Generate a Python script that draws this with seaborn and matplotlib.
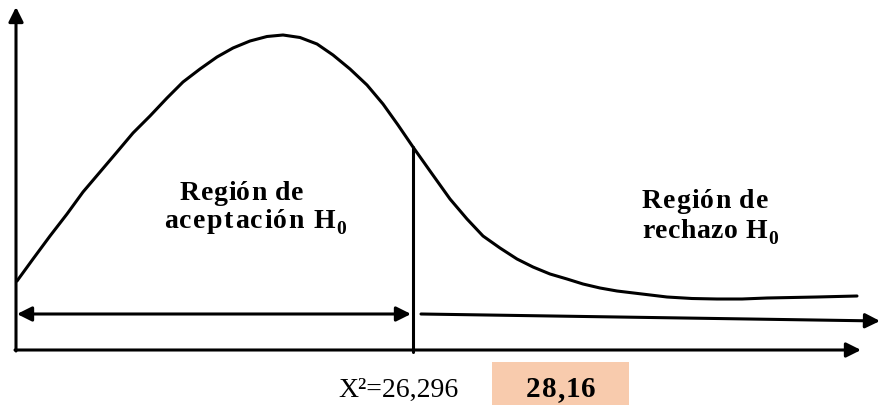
import matplotlib
matplotlib.use("Agg")
import matplotlib.pyplot as plt
import seaborn as sns
import pandas as pd
from matplotlib import font_manager
from matplotlib.ft2font import FT2Font
from matplotlib.patches import Rectangle

# Schematic chi-square density drawn on a pixel-like canvas (x right, y down)
curve_x = [17, 33, 50, 67, 83, 100, 117, 133, 150, 167, 183, 200, 217, 233,
           250, 267, 283, 300, 317, 333, 350, 367, 383, 398, 413, 430, 450,
           467, 483, 500, 517, 533, 550, 567, 583, 600, 617, 642, 667, 692,
           717, 742, 767, 792, 817, 837, 857]
curve_y = [282, 260, 237, 215, 193, 173, 153, 134, 117, 99, 83, 70, 58, 49,
           42, 37.5, 36, 38.5, 45, 56, 70, 86, 105, 126, 148, 172, 200,
           220, 237, 249, 260, 268, 275, 280, 285, 289, 292, 295, 298, 299.5,
           300, 300, 299, 298.5, 298, 297.5, 297]
cut_index = 24  # curve point where the critical value sits

critical_label = "X²=26,296"
table_value = "28,16"
accept_lines = ["Región de", "aceptación H"]
reject_lines = ["Región de", "rechazo H"]
subscript = "0"

W, H, DPI = 880, 406, 100
sns.set_theme(style="white")
plt.rcParams["font.family"] = ["Liberation Serif", "DejaVu Serif"]

fig = plt.figure(figsize=(W / DPI, H / DPI), dpi=DPI)
ax = fig.add_axes([0, 0, 1, 1])
ax.set_xlim(0, W)
ax.set_ylim(H, 0)
ax.axis("off")

df = pd.DataFrame({"x": curve_x, "y": curve_y})
sns.lineplot(data=df, x="x", y="y", sort=False, color="black", lw=2.2, ax=ax)
ax.lines[-1].set_solid_joinstyle("round")

# axes of the diagram
def arrow(p0, p1, style="-|>", scale=22):
    ax.annotate("", xy=p1, xytext=p0,
                arrowprops=dict(arrowstyle=style, color="black", lw=2.2,
                                mutation_scale=scale, shrinkA=0, shrinkB=0))

arrow((16, 352), (16, 8))
arrow((15, 351), (861, 351))
# critical value marker
cut_x = curve_x[cut_index]
ax.plot([cut_x, cut_x], [curve_y[cut_index], 353], color="black", lw=2.2)
# region arrows
arrow((17, 315), (411, 315), style="<|-|>", scale=22)
arrow((421, 315), (880, 322))

# text with a little extra letter spacing
def advances(s, size_pt, weight):
    path = font_manager.findfont(font_manager.FontProperties(
        family="Liberation Serif", weight=weight))
    f = FT2Font(path)
    f.set_size(size_pt, 72)
    out = []
    for ch in s:
        g = f.load_char(ord(ch))
        out.append(g.linearHoriAdvance / 65536 * DPI / 72)
    return out

def spaced(x, y, s, size_pt, weight="bold", gap=1.0, ha="left", sub=None):
    adv = advances(s, size_pt, weight)
    sub_adv = advances(sub, size_pt * 0.7, weight) if sub else []
    total = sum(adv) + gap * (len(s) - 1) + (sum(sub_adv) + 1 if sub else 0)
    if ha == "center":
        x -= total / 2
    for ch, a in zip(s, adv):
        ax.text(x, y, ch, fontsize=size_pt, fontweight=weight,
                va="baseline", ha="left", color="black")
        x += a + gap
    if sub:
        x = x - gap + 1
        ax.text(x, y + 6, sub, fontsize=size_pt * 0.7, fontweight=weight,
                va="baseline", ha="left", color="black")

spaced(180, 200, accept_lines[0], 20, gap=0.6)
spaced(164, 228, accept_lines[1], 20, gap=1.5, sub=subscript)
spaced(642, 208, reject_lines[0], 20, gap=1.0)
spaced(642, 238, reject_lines[1], 20, gap=0.5, sub=subscript)

ax.text(338, 397, critical_label, fontsize=20, va="baseline", ha="left",
        color="black")
ax.add_patch(Rectangle((492, 363), 137, 45, facecolor="#F8CBAD",
                       edgecolor="none"))
spaced(561, 397, table_value, 21, gap=1.0, ha="center")

fig.savefig("out.png", dpi=DPI)
